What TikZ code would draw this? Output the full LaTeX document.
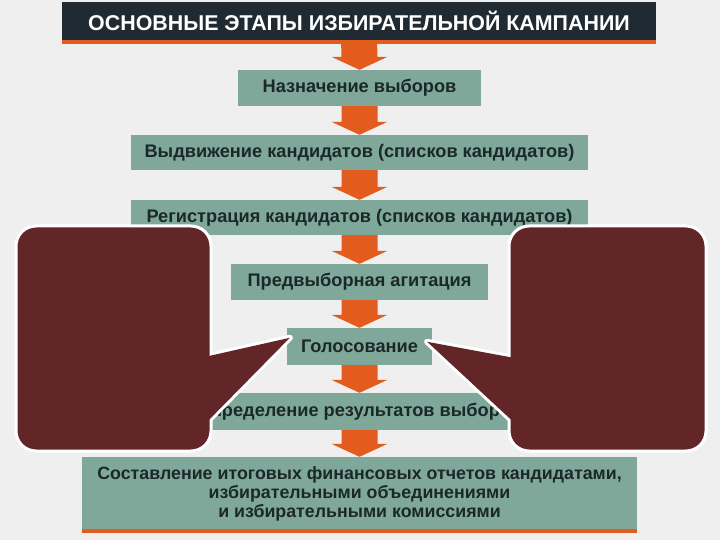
\documentclass[tikz,border=0pt]{standalone}
\usepackage{fontspec}
\setmainfont{Liberation Sans}
\usetikzlibrary{calc}

\definecolor{bggray}{HTML}{EFEFEF}
\definecolor{titlebg}{HTML}{1F2A33}
\definecolor{orng}{HTML}{E35B1D}
\definecolor{stagecol}{HTML}{7FA89B}
\definecolor{callred}{HTML}{622628}
\definecolor{txtcol}{HTML}{1B2828}

\tikzset{
  stage/.style={fill=stagecol, text=txtcol, inner sep=0pt, align=center,
    font=\bfseries\fontsize{18.2}{21}\selectfont},
  callout/.style={fill=callred, draw=white, line width=3pt, rounded corners=20pt, inner sep=0pt},
}

% orange block arrow from the bottom of #1 to the top of #2
\newcommand{\blockarrow}[2]{%
  \fill[orng] ($(#1.south)+(-18,0)$) -- ($(#2.north)+(-18,-13)$) -- ($(#2.north)+(-28,-13)$)
    -- (#2.north) -- ($(#2.north)+(28,-13)$) -- ($(#2.north)+(18,-13)$) -- ($(#1.south)+(18,0)$) -- cycle;
}

\begin{document}
\begin{tikzpicture}[x=1pt,y=-1pt]
  \fill[bggray] (0,0) rectangle (720,540);
  \useasboundingbox (0,0) rectangle (720,540);

  % title
  \fill[orng] (62,38) rectangle (656,44);
  \node[fill=titlebg, text=white, minimum width=594pt, minimum height=38pt, inner sep=0pt,
    font=\bfseries\fontsize{21.4}{26}\selectfont] (title) at (359,21) {ОСНОВНЫЕ ЭТАПЫ ИЗБИРАТЕЛЬНОЙ КАМПАНИИ};

  % stages
  \node[stage, minimum width=243pt, minimum height=36pt] (appoint) at (359.5,88) {Назначение выборов};
  \node[stage, minimum width=457pt, minimum height=35pt] (nominate) at (359.5,152.5) {Выдвижение кандидатов (списков кандидатов)};
  \node[stage, minimum width=457pt, minimum height=35pt] (register) at (359.5,217.5) {Регистрация кандидатов (списков кандидатов)};
  \node[stage, minimum width=257pt, minimum height=36pt] (agitate) at (359.5,282) {Предвыборная агитация};
  \node[stage, minimum width=145pt, minimum height=37pt] (vote) at (359.5,346.5) {Голосование};
  \node[stage, minimum width=340pt, minimum height=37pt] (results) at (359.5,411.5) {Определение результатов выборов};
  \node[stage, minimum width=555pt, minimum height=73pt, font=\bfseries\fontsize{17.8}{19}\selectfont]
    (report) at (359.5,493.5) {Составление итоговых финансовых отчетов кандидатами,\\
    избирательными объединениями\\и избирательными комиссиями};
  \fill[orng] ($(report.south west)+(0,-1)$) rectangle ++(555,4);

  \blockarrow{title}{appoint}
  \blockarrow{appoint}{nominate}
  \blockarrow{nominate}{register}
  \blockarrow{register}{agitate}
  \blockarrow{agitate}{vote}
  \blockarrow{vote}{results}
  \blockarrow{results}{report}

  % callouts pointing at the vote
  \coordinate (tipL) at ($(vote.north west)+(3,10)$);
  \coordinate (tipR) at ($(vote.north east)+(-5,14)$);
  \draw[white, line width=6pt, line join=round] (200,358) -- (tipL) -- (200,429);
  \draw[white, line width=6pt, line join=round] (520,359) -- (tipR) -- (520,428);
  \node[callout, minimum width=195pt, minimum height=225pt] (calloutL) at (113.5,338.5) {};
  \node[callout, minimum width=197pt, minimum height=225pt] (calloutR) at (607.5,338.5) {};
  \fill[callred] (200,358) -- (tipL) -- (200,429) -- cycle;
  \fill[callred] (520,359) -- (tipR) -- (520,428) -- cycle;
\end{tikzpicture}
\end{document}
